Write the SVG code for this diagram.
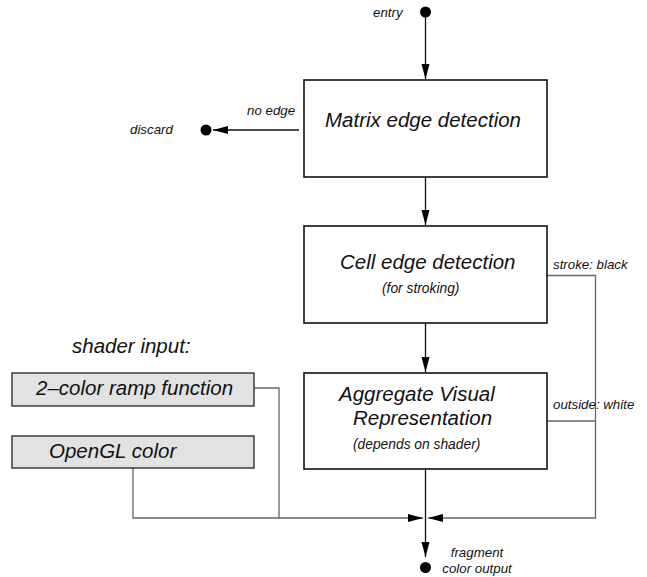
<svg xmlns="http://www.w3.org/2000/svg" width="647" height="577" viewBox="0 0 647 577">
<style>
text{font-family:"Liberation Sans",Arial,sans-serif;font-style:italic;fill:#111}
.t{font-size:20.5px}
.s{font-size:13.8px}
.l{font-size:13.3px}
.box{fill:#fff;stroke:#111;stroke-width:1.6}
.gbox{fill:#e2e2e2;stroke:#222;stroke-width:1.3}
.arr{fill:none;stroke:#111;stroke-width:1.3}
.con{fill:none;stroke:#666;stroke-width:1.3}
.dot{fill:#000}
</style>
<defs>
<marker id="ah" markerUnits="userSpaceOnUse" markerWidth="16" markerHeight="9" refX="15" refY="4" orient="auto">
<path d="M0,0 L15,4 L0,8 z" fill="#000"/>
</marker>
</defs>
<g id="connectors">
<circle class="dot" cx="425.5" cy="12" r="5.5"/>
<line class="arr" x1="425.5" y1="12" x2="425.5" y2="79" marker-end="url(#ah)"/>
<line class="arr" x1="299" y1="130" x2="213" y2="130" marker-end="url(#ah)"/>
<circle class="dot" cx="206" cy="130" r="5.5"/>
<line class="arr" x1="425.5" y1="177" x2="425.5" y2="225" marker-end="url(#ah)"/>
<line class="arr" x1="425.5" y1="323" x2="425.5" y2="372" marker-end="url(#ah)"/>
<polyline class="con" points="547,275.5 595.5,275.5 595.5,518 428,518" marker-end="url(#ah)"/>
<line class="con" x1="547" y1="421" x2="595.5" y2="421"/>
<polyline class="con" points="133,468 133,518 423,518" marker-end="url(#ah)"/>
<polyline class="con" points="254,388 279,388 279,518"/>
<line class="arr" x1="425.5" y1="469" x2="425.5" y2="557" marker-end="url(#ah)"/>
<circle class="dot" cx="425.5" cy="567.5" r="5.5"/>
<text class="l" x="373" y="17">entry</text>
<text class="l" x="247" y="115">no edge</text>
<text class="l" x="130" y="134">discard</text>
<text class="l" x="553" y="269">stroke: black</text>
<text class="l" x="553" y="409">outside: white</text>
<text class="l" x="477" y="557" text-anchor="middle">fragment</text>
<text class="l" x="477" y="573" text-anchor="middle">color output</text>
</g>
<g id="matrix">
<rect class="box" x="304" y="80" width="243" height="97"/>
<text class="t" x="325" y="127">Matrix edge detection</text>
</g>
<g id="cell">
<rect class="box" x="304" y="226" width="243" height="97"/>
<text class="t" x="340" y="269">Cell edge detection</text>
<text class="s" x="382" y="293">(for stroking)</text>
</g>
<g id="aggregate">
<rect class="box" x="304" y="373" width="243" height="96"/>
<text class="t" x="339" y="401">Aggregate Visual</text>
<text class="t" x="353" y="425">Representation</text>
<text class="s" x="353" y="449">(depends on shader)</text>
</g>
<g id="shader-label">
<text class="t" x="72" y="353">shader input:</text>
</g>
<g id="ramp">
<rect class="gbox" x="12" y="373" width="242" height="33"/>
<text class="t" x="36" y="395">2–color ramp function</text>
</g>
<g id="opengl">
<rect class="gbox" x="12" y="436" width="242" height="32"/>
<text class="t" x="49" y="458">OpenGL color</text>
</g>
</svg>
